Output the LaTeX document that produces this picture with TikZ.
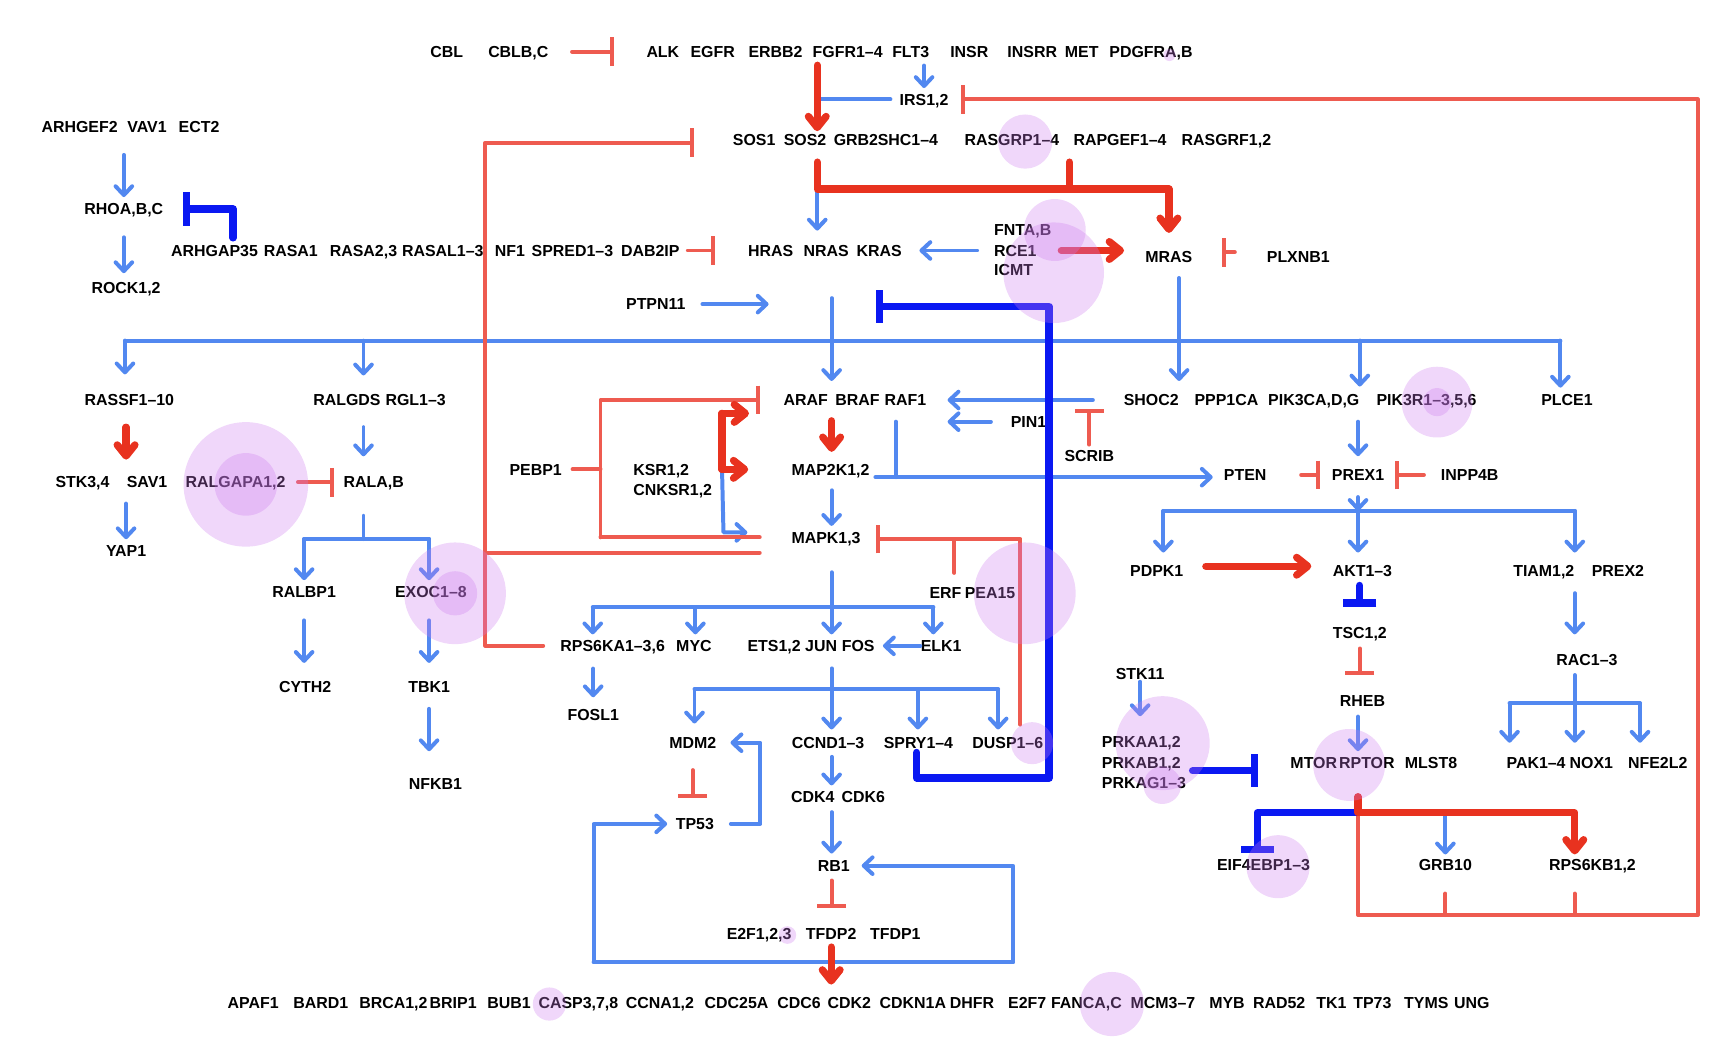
\documentclass[tikz,border=0pt]{standalone}
\usepackage{fontspec}
\setmainfont{Liberation Sans}
\usepackage{tikz}
\usetikzlibrary{calc,arrows.meta}
\definecolor{actblue}{HTML}{5288F0}
\definecolor{actred}{HTML}{E8321F}
\definecolor{inhred}{HTML}{EE5B50}
\definecolor{inhblue}{HTML}{0A18F2}
\definecolor{blobc}{RGB}{205,122,238}
\newcommand\genefont{\fontsize{7.2}{8}\selectfont\bfseries}
\tikzset{gene/.style={font=\genefont,inner sep=0pt,text height=5.2pt,text depth=0pt},
  wire/.style={actblue,line width=1.8pt,line cap=round,line join=round},
  act/.style={wire,-{Straight Barb[length=4pt,width=7.5pt,round]}},
  redwire/.style={actred,line width=3.3pt,line cap=round,line join=round},
  actthick/.style={redwire,-{Straight Barb[length=5pt,width=8pt,round]}},
  inhwire/.style={inhred,line width=1.8pt,line cap=round,line join=round},
  inh/.style={inhwire,-{Bar[width=13pt]}},
  bluewire/.style={inhblue,line width=3.3pt,line cap=round,line join=round},
  inhthick/.style={bluewire,-{Bar[width=15pt]}},
  blob/.style={fill=blobc,fill opacity=0.3}}

\begin{document}
\begin{tikzpicture}[x=0.5pt,y=-0.5pt]
\useasboundingbox (0,0) rectangle (1568,955);
% receptors and adaptors
\node[gene] (cbl) at (404,46.7) {CBL};
\node[gene] (cblb) at (468.7,46.7) {CBLB,C};
\node[gene] (alk) at (599.4,46.7) {ALK};
\node[gene] (egfr) at (644.4,46.7) {EGFR};
\node[gene] (erbb) at (701.3,46.7) {ERBB2};
\node[gene] (fgfr) at (766.5,46.7) {FGFR1–4};
\node[gene] (flt) at (823.5,46.7) {FLT3};
\node[gene] (insr) at (876.5,46.7) {INSR};
\node[gene] (insrr) at (933.4,46.7) {INSRR};
\node[gene] (met) at (978.2,46.7) {MET};
\node[gene] (pdgfr) at (1040.8,46.7) {PDGFRA,B};
\node[gene] (irs) at (835.6,89.8) {IRS1,2};
\node[gene] (sos1) at (682,126.6) {SOS1};
\node[gene] (sos2) at (728,126.6) {SOS2};
\node[gene] (grb2) at (774,126.6) {GRB2};
\node[gene] (shc) at (821,126.6) {SHC1–4};
\node[gene] (rasgrp) at (915,126.6) {RASGRP1–4};
\node[gene] (rapgef) at (1012.8,126.6) {RAPGEF1–4};
\node[gene] (rasgrf) at (1109,126.6) {RASGRF1,2};
\node[gene] (arhgef) at (72,114.5) {ARHGEF2};
\node[gene] (vav) at (133,114.5) {VAV1};
\node[gene] (ect) at (180,114.5) {ECT2};
\node[gene] (rhoa) at (112,189) {RHOA,B,C};
\node[gene] (rock) at (114,260.6) {ROCK1,2};
% GAPs and RAS
\node[gene] (arhgap) at (194,226.5) {ARHGAP35};
\node[gene] (rasa1) at (263,226.5) {RASA1};
\node[gene] (rasa23) at (328.7,226.5) {RASA2,3};
\node[gene] (rasal) at (400.4,226.5) {RASAL1–3};
\node[gene] (nf1) at (461.2,226.5) {NF1};
\node[gene] (spred) at (517.6,226.5) {SPRED1–3};
\node[gene] (dab) at (588,226.5) {DAB2IP};
\node[gene] (hras) at (697,226.5) {HRAS};
\node[gene] (nras) at (747,226.5) {NRAS};
\node[gene] (kras) at (795,226.5) {KRAS};
\node[gene,anchor=west] (fnta) at (898.5,207.4) {FNTA,B};
\node[gene,anchor=west] (rce) at (898.5,226.5) {RCE1};
\node[gene,anchor=west] (icmt) at (898.5,244.2) {ICMT};
\node[gene] (mras) at (1057,232.6) {MRAS};
\node[gene] (plxnb) at (1174,232.6) {PLXNB1};
\node[gene] (ptpn) at (593,275) {PTPN11};
% effectors
\node[gene] (rassf) at (117,361.7) {RASSF1–10};
\node[gene] (ralgds) at (313.7,361.7) {RALGDS};
\node[gene] (rgl) at (375.9,361.7) {RGL1–3};
\node[gene] (araf) at (728.5,361.7) {ARAF};
\node[gene] (braf) at (775.3,361.7) {BRAF};
\node[gene] (raf1) at (818.7,361.7) {RAF1};
\node[gene] (shoc) at (1041,361.7) {SHOC2};
\node[gene] (ppp) at (1109,361.7) {PPP1CA};
\node[gene] (pik3ca) at (1188,361.7) {PIK3CA,D,G};
\node[gene] (pik3r) at (1290,361.7) {PIK3R1–3,5,6};
\node[gene] (plce) at (1417,361.7) {PLCE1};
\node[gene] (pin) at (930,381.3) {PIN1};
\node[gene] (scrib) at (985,412) {SCRIB};
\node[gene] (stk) at (74.6,436) {STK3,4};
\node[gene] (sav) at (133,436) {SAV1};
\node[gene] (ralgap) at (213,436) {RALGAPA1,2};
\node[gene] (rala) at (338,436) {RALA,B};
\node[gene] (pebp) at (484.4,424.4) {PEBP1};
\node[gene,anchor=west] (ksr) at (572.3,424.4) {KSR1,2};
\node[gene,anchor=west] (cnksr) at (572.3,442.5) {CNKSR1,2};
\node[gene] (map2k) at (751,424.4) {MAP2K1,2};
\node[gene] (mapk) at (747,485.9) {MAPK1,3};
\node[gene] (pten) at (1126,429.5) {PTEN};
\node[gene] (prex1) at (1228,429.5) {PREX1};
\node[gene] (inpp) at (1329,429.5) {INPP4B};
\node[gene] (yap) at (114,498) {YAP1};
\node[gene] (ralbp) at (275,535) {RALBP1};
\node[gene] (exoc) at (389.7,535) {EXOC1–8};
\node[gene] (erf) at (855,535.6) {ERF};
\node[gene] (pea) at (895.3,535.6) {PEA15};
\node[gene] (pdpk) at (1046,516) {PDPK1};
\node[gene] (akt) at (1232,516) {AKT1–3};
\node[gene] (tiam) at (1396,516) {TIAM1,2};
\node[gene] (prex2) at (1463,516) {PREX2};
\node[gene] (tsc) at (1229.6,572.6) {TSC1,2};
\node[gene] (rps6ka) at (554,584) {RPS6KA1–3,6};
\node[gene] (myc) at (627.5,584) {MYC};
\node[gene] (ets) at (700,584) {ETS1,2};
\node[gene] (jun) at (742.5,584) {JUN};
\node[gene] (fos) at (776,584) {FOS};
\node[gene] (elk) at (851,584) {ELK1};
\node[gene] (rac) at (1435,597) {RAC1–3};
\node[gene] (stk11) at (1031,609.5) {STK11};
\node[gene] (cyth) at (276,621) {CYTH2};
\node[gene] (tbk) at (388,621) {TBK1};
\node[gene] (rheb) at (1232,634) {RHEB};
\node[gene] (fosl) at (536.4,646.5) {FOSL1};
\node[gene] (mdm) at (626.4,671.6) {MDM2};
\node[gene] (ccnd) at (748.8,671.6) {CCND1–3};
\node[gene] (spry) at (830.5,671.6) {SPRY1–4};
\node[gene] (dusp) at (911.3,671.6) {DUSP1–6};
\node[gene,anchor=west] (prkaa) at (996,671) {PRKAA1,2};
\node[gene,anchor=west] (prkab) at (996,690) {PRKAB1,2};
\node[gene,anchor=west] (prkag) at (996,708) {PRKAG1–3};
\node[gene] (mtor) at (1188,690) {MTOR};
\node[gene] (rptor) at (1236,690) {RPTOR};
\node[gene] (mlst) at (1294,690) {MLST8};
\node[gene] (pak) at (1389,690) {PAK1–4};
\node[gene] (nox) at (1439,690) {NOX1};
\node[gene] (nfe) at (1499,690) {NFE2L2};
\node[gene] (nfkb) at (393.7,708.3) {NFKB1};
\node[gene] (cdk4) at (735,720.4) {CDK4};
\node[gene] (cdk6) at (780.6,720.4) {CDK6};
\node[gene] (tp53) at (628.3,745) {TP53};
\node[gene] (eif) at (1142.6,782) {EIF4EBP1–3};
\node[gene] (grb10) at (1307,782) {GRB10};
\node[gene] (rps6kb) at (1440,782) {RPS6KB1,2};
\node[gene] (rb) at (754,782.8) {RB1};
\node[gene] (e2f) at (686.4,844.6) {E2F1,2,3};
\node[gene] (tfdp2) at (751.6,844.6) {TFDP2};
\node[gene] (tfdp1) at (809.6,844.6) {TFDP1};
% targets
\foreach \x/\g [count=\i] in {229/APAF1, 290/BARD1, 355.8/{BRCA1,2}, 409.8/BRIP1, 460.4/BUB1,
    523/{CASP3,7,8}, 596.7/{CCNA1,2}, 666/CDC25A, 722.6/CDC6, 768/CDK2, 825.5/CDKN1A, 879/DHFR,
    928.9/E2F7, 982.5/{FANCA,C}, 1051.6/MCM3–7, 1109.5/MYB, 1156.7/RAD52, 1204/TK1, 1241/TP73,
    1289.8/TYMS, 1331/UNG}
  \node[gene] (out\i) at (\x,906.7) {\g};

% junctions
\coordinate (rtk) at (739,59);
\coordinate (sosj) at (739,171);
\coordinate (gefj) at (967,171);
\coordinate (fbl) at (439,129);
\coordinate (mapkfb) at (439,499.8);
\coordinate (ptpnend) at (695,277);
\coordinate (rasout) at (752,269.6);
\coordinate (sprybar) at (792,277);
\coordinate (busl) at (113,308);
\coordinate (ralj) at (328.7,308);
\coordinate (busr) at (1411,308);
\coordinate (ptenj) at (810,431.5);
\coordinate (pebpj) at (543,424.4);
\coordinate (ksrj) at (652.9,373.8);
\coordinate (ksrm) at (654.2,481.4);
\coordinate (erfj) at (922.7,487.4);
\coordinate (erfk) at (863,487.4);
\coordinate (ralbus) at (328.7,487.4);
\coordinate (aktl) at (1052,462);
\coordinate (aktbus) at (1228,462);
\coordinate (aktr) at (1424,462);
\coordinate (busa) at (536,549.2);
\coordinate (busm) at (628.8,549.2);
\coordinate (busb) at (844,549.2);
\coordinate (busc) at (628,623.3);
\coordinate (buss) at (830,623.3);
\coordinate (busd) at (902.6,623.3);
\coordinate (racl) at (1365,636);
\coordinate (racbus) at (1424,636);
\coordinate (racr) at (1483,636);
\coordinate (p53j) at (687.6,746.6);
\coordinate (spryj) at (829,703.6);
\coordinate (duspj) at (948.6,703.6);
\coordinate (eifj) at (1137,735);
\coordinate (mtorj) at (1228,735);
\coordinate (s6kj) at (1424,735);
\coordinate (fbj) at (1535.3,827.4);
\coordinate (loopl) at (536.8,870);
\coordinate (loopr) at (916,870);

% activation
\draw[act,shorten <=3.5pt,shorten >=2.3pt] (irs |- flt.south) -- (irs.north);
\draw[wire,shorten <=4pt] (irs.west) -- (irs.west -| rtk);
\draw[act,shorten >=6.2pt] (sosj) -- (sosj |- hras.north);
\draw[act,shorten <=10pt,shorten >=2.6pt] (rhoa |- arhgef.south) -- (rhoa.north);
\draw[act,shorten <=10pt,shorten >=4pt] (rhoa.south) -- (rhoa |- rock.north);
\draw[act,shorten <=7.5pt,shorten >=7.8pt] (rce) -- (kras);
\draw[act,shorten <=7.5pt] (ptpn) -- (ptpn -| ptpnend);
\draw[act,shorten >=5.8pt] (rasout) -- (rasout |- araf.north);
\draw[wire] (busl) -- (busr);
\draw[act,shorten >=8.8pt] (busl) -- (busl |- rassf.north);
\draw[act,shorten >=8.3pt] (ralj) -- (ralj |- ralgds.north);
\draw[act,shorten >=3.3pt] (pik3ca.east |- busl) -- (pik3ca.north east);
\draw[act,shorten >=2.8pt] (busr) -- (busr |- plce.north);
\draw[act,shorten <=6.6pt,shorten >=5.8pt] (mras.south -| shoc.east) -- (shoc.north east);
\draw[act,shorten <=13.8pt,shorten >=9.5pt] (shoc) -- (raf1);
\draw[act,shorten <=8.8pt,shorten >=9.5pt] (pin) -- (pin -| raf1.east);
\draw[wire] ($(raf1.south -| ptenj)+(0,14)$) -- (ptenj);
\draw[act,shorten >=4.9pt] ($(map2k.east |- ptenj)+(5,0)$) -- (ptenj -| pten.west);
\draw[act,shorten <=7pt,shorten >=5.7pt] (prex1 |- pik3ca.south) -- (prex1.north);
\draw[act,shorten <=7.2pt] (prex1.south) -- (aktbus);
\draw[wire] (aktl) -- (aktr);
\foreach \c in {aktl,aktbus,aktr} \draw[act,shorten >=5.4pt] (\c) -- (\c |- akt.north);
\draw[act,shorten <=7.4pt,shorten >=8.9pt] (tiam.south east) -- (tiam.east |- rac.north);
\draw[wire,shorten <=3.9pt] (rac.south -| racbus) -- (racbus);
\draw[wire] (racl) -- (racr);
\foreach \c in {racl,racbus,racr} \draw[act,shorten >=6.4pt] (\c) -- (\c |- pak.north);
\draw[act,shorten <=0.7pt,shorten >=8.9pt] (stk11.south) -- (stk11 |- prkaa.north);
\draw[act,shorten <=4.2pt,shorten >=2.6pt] (rheb.south -| mtorj) -- (mtorj |- rptor.north);
\draw[act,shorten >=1.9pt] (grb10 |- mtorj) -- (grb10.north);
\draw[act,shorten <=6.9pt,shorten >=2.4pt] (yap |- stk.south) -- (yap.north);
\draw[act,shorten <=9.5pt,shorten >=8.9pt] (ralj |- ralgds.south) -- (ralj |- rala.north);
\draw[wire,shorten <=12.4pt] (ralj |- rala.south) -- (ralbus);
\draw[wire] (ralbp |- ralbus) -- (tbk |- ralbus);
\draw[act,shorten >=2.4pt] (ralbp |- ralbus) -- (ralbp.north);
\draw[act,shorten >=2.4pt] (tbk |- ralbus) -- (tbk |- exoc.north);
\draw[act,shorten <=10.2pt,shorten >=8pt] (ralbp.south) -- (ralbp |- cyth.north);
\draw[act,shorten <=10.2pt,shorten >=8pt] (tbk |- exoc.south) -- (tbk.north);
\draw[act,shorten <=7.2pt,shorten >=11.7pt] (tbk.south) -- (tbk |- nfkb.north);
\draw[act,shorten >=19.8pt] (ksrj |- map2k) -- (ksrm) -- (ksrm -| mapk.west);
\draw[act,shorten <=6.7pt,shorten >=2.4pt] (rasout |- map2k.south) -- (rasout |- mapk.north);
\draw[act,shorten <=13pt,shorten >=2.4pt] (rasout |- mapk.south) -- (rasout |- jun.north);
\draw[wire] (busa) -- (busb);
\foreach \c in {busa,busm,busb} \draw[act,shorten >=2.4pt] (\c) -- (\c |- jun.north);
\draw[act,shorten >=3.6pt] (elk.west) -- (elk.west -| fos.east);
\draw[act,shorten <=7.5pt,shorten >=5.2pt] (fosl |- rps6ka.south) -- (fosl.north);
\draw[act,shorten <=7.4pt,shorten >=3.2pt] (rasout |- jun.south) -- (rasout |- ccnd.north);
\draw[wire] (busc) -- (busd);
\draw[act,shorten >=5.9pt] (busc) -- (busc |- mdm.north);
\foreach \c in {buss,busd} \draw[act,shorten >=3.2pt] (\c) -- (\c |- spry.north);
\draw[act,shorten <=7.5pt,shorten >=6.3pt] (tp53.east) -- (tp53 -| p53j) |- (mdm.east);
\draw[act,shorten <=3.6pt,shorten >=2.3pt] (rasout |- ccnd.south) -- (rasout |- cdk4.north);
\draw[act,shorten <=4.2pt,shorten >=2.7pt] (rasout |- cdk4.south) -- (rasout |- rb.north);
\draw[act,shorten >=3.7pt] (loopr) -- (loopl) |- (tp53.west);
\draw[act,shorten >=5.2pt] (loopl) -- (loopr) |- (rb.east);

% inhibition
\draw[inh,shorten <=10.5pt,shorten >=14.3pt] (cblb) -- (alk);
\draw[inh,shorten >=5.7pt] (mtorj) -- (mtorj |- fbj) -- (fbj) -- (fbj |- irs) -- (irs.east);
\draw[inhwire,shorten <=10.2pt] (grb10.south) -- (grb10 |- fbj);
\draw[inhwire,shorten <=10.2pt] (s6kj |- rps6kb.south) -- (s6kj |- fbj);
\draw[inh,shorten <=7.6pt,shorten >=17.6pt] (rps6ka.west) -- (rps6ka.west -| fbl) -- (fbl) -- (fbl -| sos1.west);
\draw[inhwire,shorten <=14.2pt] (mapkfb -| mapk.west) -- (mapkfb);
\draw[inh,shorten <=3.6pt,shorten >=14.8pt] (dab) -- (hras);
\draw[inh,shorten <=14.3pt,shorten >=13.2pt] ($(plxnb.west)+(0,-4.6)$) -- ($(mras.east)+(0,-4.6)$);
\draw[inhwire,shorten <=4.7pt] (pebp.east) -- (pebpj);
\draw[inhwire,shorten <=14.2pt] (mapk.west) -- (mapk.west -| pebpj);
\draw[inh,shorten >=10.5pt] (mapk.west -| pebpj) -- (pebpj |- araf) -- (araf.west);
\draw[inh,shorten <=2.2pt] (scrib.north) -- ++(0,-36.8);
\draw[inh,shorten <=5.5pt,shorten >=4.2pt] (ralgap) -- (rala);
\draw[inh,shorten <=15.5pt,shorten >=5pt] (pten) -- (prex1);
\draw[inh,shorten <=7.5pt,shorten >=4.5pt] (inpp) -- (prex1);
\draw[inh,shorten <=4.1pt,shorten >=8.9pt] (tsc.south) -- (tsc.south |- rheb.north);
\draw[inh,shorten >=6.6pt] ($(dusp.north -| erfj)+(0,-10.8)$) -- (erfj) -- (erfj -| mapk.east);
\draw[inhwire,shorten <=6pt] (erf.north -| erfk) -- (erfk);
\draw[inh,shorten <=9.6pt,shorten >=8.7pt] (mdm.south) -- (mdm |- tp53.north);
\draw[inh,shorten <=3.9pt,shorten >=9pt] (rasout |- rb.south) -- (rasout |- tfdp2.north);
\draw[inhthick,shorten >=8.8pt] ($(arhgap.north)+(16.8,-5.8)$) |- (rhoa.east);
\draw[inhthick] ($(spryj |- spry.south)+(0,3.2)$) -- (spryj) -- (duspj) |- (sprybar);
\draw[inhthick,shorten <=3.9pt,shorten >=9.2pt] (tsc |- akt.south) -- (tsc.north);
\draw[inhthick,shorten <=5.2pt,shorten >=14.3pt] ($(prkab.east)+(0,7)$) -- ($(prkab.east -| mtor.west)+(0,7)$);
\draw[inhthick,shorten >=2.4pt] (mtorj) -- (eifj) -- (eifj |- eif.north);

% strong activation
\draw[actthick,shorten >=1.2pt] (rtk) -- (rtk |- sos2.north);
\draw[actthick,shorten >=8.2pt] ($(sos2.south -| sosj)+(0,14.4)$) -- (sosj) -| (mras.north);
\draw[redwire] ($(rapgef.south -| gefj)+(0,14.4)$) -- (gefj);
\draw[actthick,shorten <=11pt,shorten >=9.5pt] (rce.east) -- (rce.east -| mras.west);
\draw[actthick,shorten <=9.5pt,shorten >=7.4pt] (yap |- rassf.south) -- (yap |- stk.north);
\draw[actthick] (ksrj |- map2k) -- (ksrj) -- ++(24.4,0);
\draw[actthick,shorten >=19.4pt] (ksrj) -- (ksrj |- map2k) -- (map2k.west);
\draw[actthick,shorten <=6.6pt,shorten >=5.1pt] (rasout |- araf.south) -- (rasout |- map2k.north);
\draw[actthick,shorten <=10pt,shorten >=9.5pt] ($(pdpk.east)+(0,-4)$) -- ($(akt.west)+(0,-4)$);
\draw[actthick,shorten >=1.9pt] ($(mtorj |- rptor.south)+(0,24.8)$) -- (mtorj) -- (s6kj) -- (s6kj |- rps6kb.north);
\draw[actthick,shorten <=3.1pt,shorten >=5.4pt] (tfdp2.south) -- (tfdp2 |- out1.north);

% highlights
\foreach \x/\y/\r in {1057.5/49.7/5.5, 927/128/24.5, 953.8/208/28, 952.8/246.6/45.5,
    1299.5/363.6/32, 1299.5/363.6/12.7, 222.3/438/56.3, 222.3/438/28.3, 411.5/536.5/46,
    411.5/536.5/20, 926.7/536.5/46, 933.3/672/19, 1051.4/672/42.5, 1051/710/17,
    1220/691.7/32.5, 1155.7/783.7/28.5, 712/845.5/8, 496.8/907.9/15, 1005.5/907.9/29}
  \fill[blob] (\x,\y) circle[radius=\r];
\end{tikzpicture}
\end{document}
